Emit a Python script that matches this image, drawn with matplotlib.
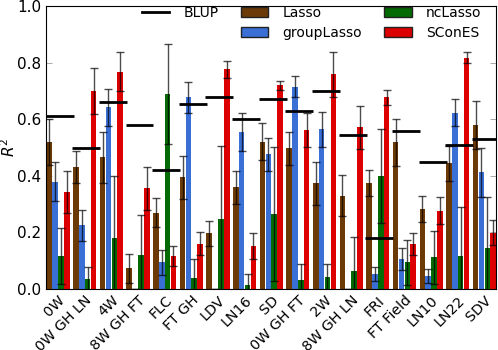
import numpy as np
import matplotlib
matplotlib.use("Agg")
import matplotlib.pyplot as plt
from matplotlib.patches import Patch
from matplotlib.lines import Line2D

# phenotypes
traits = ['0W', '0W GH LN', '4W', '8W GH FT', 'FLC', 'FT GH', 'LDV', 'LN16', 'SD',
          '0W GH FT', '2W', '8W GH LN', 'FRI', 'FT Field', 'LN10', 'LN22', 'SDV']

blup = [0.61, 0.50, 0.66, 0.58, 0.42, 0.655, 0.68, 0.60, 0.67,
        0.63, 0.70, 0.545, 0.18, 0.56, 0.45, 0.51, 0.53]

lasso = [0.52, 0.43, 0.465, 0.073, 0.27, 0.395, 0.197, 0.36, 0.52,
         0.497, 0.373, 0.33, 0.375, 0.518, 0.283, 0.444, 0.58]
lasso_err = [0.08, 0.057, 0.09, 0.05, 0.052, 0.076, 0.044, 0.058, 0.065,
             0.059, 0.076, 0.073, 0.045, 0.084, 0.047, 0.061, 0.084]

group_lasso = [0.38, 0.226, 0.642, 0.0, 0.094, 0.677, 0.0, 0.556, 0.476,
               0.715, 0.564, 0.0, 0.053, 0.106, 0.046, 0.623, 0.412]
group_lasso_err = [0.07, 0.055, 0.065, 0.0, 0.044, 0.054, 0.0, 0.067, 0.059,
                   0.038, 0.062, 0.0, 0.024, 0.04, 0.025, 0.047, 0.087]

nc_lasso = [0.117, 0.034, 0.18, 0.12, 0.689, 0.038, 0.246, 0.016, 0.265,
            0.032, 0.044, 0.065, 0.40, 0.094, 0.112, 0.117, 0.144]
nc_lasso_err = [0.10, 0.045, 0.22, 0.14, 0.175, 0.068, 0.26, 0.037, 0.238,
                0.058, 0.046, 0.118, 0.166, 0.078, 0.093, 0.174, 0.18]

scones = [0.343, 0.70, 0.768, 0.356, 0.117, 0.16, 0.777, 0.152, 0.72,
          0.562, 0.758, 0.571, 0.677, 0.159, 0.277, 0.817, 0.199]
scones_err = [0.075, 0.08, 0.07, 0.076, 0.035, 0.04, 0.03, 0.045, 0.016,
              0.06, 0.078, 0.077, 0.027, 0.038, 0.047, 0.02, 0.045]

methods = ['Lasso', 'groupLasso', 'ncLasso', 'SConES']
values = [lasso, group_lasso, nc_lasso, scones]
errors = [lasso_err, group_lasso_err, nc_lasso_err, scones_err]
colors = ['#6b3a06', '#3a6fd6', '#046a04', '#dc0000']

fig = plt.figure(figsize=(4.98, 3.5), dpi=100)
ax = fig.add_axes([0.0924, 0.174, 0.9036, 0.809])

x = np.arange(len(traits))
width = 0.22
for k in range(4):
    pos = x + (k - 1.5) * width
    ax.bar(pos, values[k], width * 0.95, color=colors[k], edgecolor='none', zorder=2)
    ax.errorbar(pos, values[k], yerr=errors[k], fmt='none', ecolor='k', alpha=0.7,
                elinewidth=1, capsize=3, capthick=1, zorder=3)

# BLUP as short horizontal segments
ax.hlines(blup, x - 0.47, x + 0.58, colors='k', linewidth=2, zorder=4)

ax.set_xlim(-0.454, 16.436)
ax.set_ylim(0, 1.0)
ax.set_xticks(x)
ax.set_xticklabels(traits, rotation=45, ha='right', rotation_mode='anchor', fontsize=10.3)
ax.set_yticks(np.arange(0, 1.01, 0.2))
ax.set_yticklabels(['%.1f' % v for v in np.arange(0, 1.01, 0.2)], fontsize=11)
ax.tick_params(direction='in', right=True, top=False, length=4, width=0.5, color='#888888')
ax.tick_params(axis='x', length=0, pad=3)
ax.set_ylabel('$R^2$', fontsize=11)
ax.yaxis.set_label_coords(-0.062, 0.5)

handles = [Line2D([], [], color='k', lw=2),
           Patch(facecolor='none', edgecolor='none')]
labels = ['BLUP', '']
for k in range(4):
    handles.append(Patch(facecolor=colors[k], edgecolor='#222222', linewidth=1))
    labels.append(methods[k])
ax.legend(handles, labels, ncol=3, loc='upper right', frameon=False, fontsize=10,
          bbox_to_anchor=(0.995, 1.045), handlelength=2.0, columnspacing=1.6,
          labelspacing=0.45, handletextpad=1.0)

plt.savefig("out.png", dpi=100)
